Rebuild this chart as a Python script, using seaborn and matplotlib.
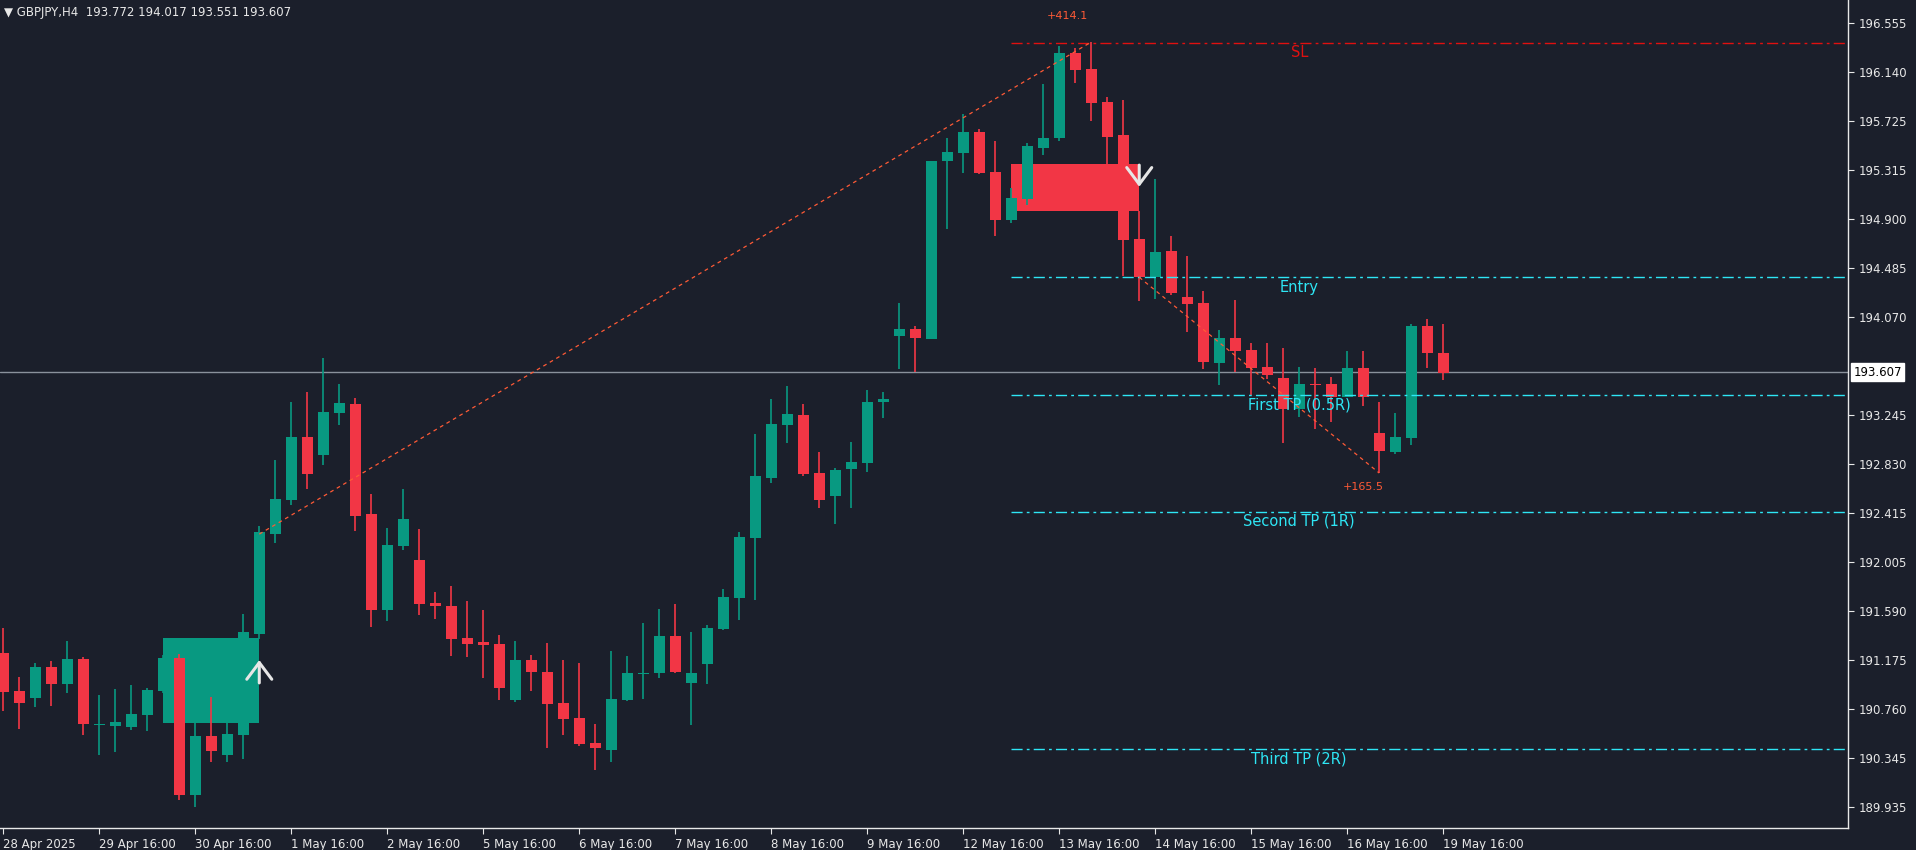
import numpy as np
import pandas as pd
import seaborn as sns
from matplotlib import pyplot as plt

# GBPJPY H4 candles (open, high, low, close)
opens = [191.236, 190.915, 190.856, 191.118, 190.974, 191.185, 190.628, 190.619, 190.611, 190.712,
         190.915, 191.194, 190.037, 190.535, 190.374, 190.543, 191.396, 192.241, 192.528, 193.060,
         192.908, 193.263, 193.339, 192.410, 191.599, 192.139, 192.021, 191.658, 191.633, 191.363,
         191.329, 191.312, 190.839, 191.177, 191.075, 190.814, 190.687, 190.476, 190.416, 190.839,
         191.060, 191.067, 191.380, 190.982, 191.143, 191.439, 191.700, 192.207, 192.714, 193.161,
         193.246, 192.756, 192.562, 192.790, 192.841, 193.356, 193.913, 193.972, 193.888, 195.391,
         195.459, 195.636, 195.298, 194.893, 195.070, 195.501, 195.585, 196.303, 196.168, 195.890,
         195.611, 194.732, 194.411, 194.631, 194.243, 194.192, 193.685, 193.896, 193.795, 193.651,
         193.558, 193.297, 193.508, 193.508, 193.398, 193.643, 193.094, 192.934, 193.052, 193.998,
         193.770]
highs = [191.447, 191.033, 191.151, 191.168, 191.337, 191.202, 190.881, 190.932, 190.966, 190.940,
         191.219, 191.227, 190.645, 190.864, 190.645, 191.565, 192.308, 192.866, 193.356, 193.440,
         193.727, 193.508, 193.389, 192.579, 192.292, 192.621, 192.283, 191.751, 191.802, 191.675,
         191.599, 191.388, 191.337, 191.219, 191.320, 191.177, 191.151, 190.636, 191.253, 191.211,
         191.489, 191.607, 191.650, 191.413, 191.472, 191.776, 192.258, 193.085, 193.381, 193.491,
         193.339, 192.934, 192.798, 193.018, 193.457, 193.440, 194.192, 193.998, 195.391, 195.585,
         195.788, 195.661, 195.560, 195.163, 195.543, 196.042, 196.363, 196.346, 196.396, 195.932,
         195.906, 194.969, 195.239, 194.758, 194.589, 194.293, 193.964, 194.217, 193.854, 193.854,
         193.812, 193.651, 193.643, 193.567, 193.786, 193.786, 193.356, 193.263, 194.015, 194.057,
         194.015]
lows = [190.746, 190.594, 190.780, 190.788, 190.898, 190.543, 190.374, 190.400, 190.585, 190.577,
        190.898, 189.994, 189.935, 190.315, 190.315, 190.341, 191.354, 192.165, 192.486, 192.621,
        192.824, 193.161, 192.266, 191.455, 191.506, 192.106, 191.557, 191.523, 191.211, 191.202,
        191.025, 190.839, 190.822, 190.915, 190.433, 190.543, 190.450, 190.248, 190.315, 190.830,
        190.847, 191.025, 191.067, 190.628, 190.974, 191.430, 191.515, 191.683, 192.672, 193.010,
        192.731, 192.460, 192.325, 192.460, 192.765, 193.221, 193.634, 193.609, 193.888, 194.817,
        195.290, 195.281, 194.758, 194.868, 195.020, 195.442, 195.560, 196.050, 195.729, 195.315,
        194.420, 194.209, 194.226, 194.259, 193.947, 193.634, 193.499, 193.609, 193.415, 193.550,
        193.010, 193.229, 193.128, 193.187, 193.398, 193.322, 192.756, 192.917, 192.993, 193.643,
        193.541]
closes = [190.906, 190.814, 191.118, 190.974, 191.185, 190.636, 190.632, 190.653, 190.721, 190.923,
          191.194, 190.037, 190.535, 190.408, 190.552, 191.413, 192.258, 192.537, 193.060, 192.748,
          193.271, 193.347, 192.393, 191.599, 192.148, 192.368, 191.650, 191.633, 191.354, 191.312,
          191.303, 190.940, 191.177, 191.075, 190.805, 190.678, 190.467, 190.433, 190.847, 191.067,
          191.070, 191.380, 191.075, 191.067, 191.447, 191.709, 192.216, 192.731, 193.170, 193.254,
          192.748, 192.528, 192.781, 192.849, 193.356, 193.381, 193.972, 193.896, 195.391, 195.467,
          195.636, 195.290, 194.893, 195.079, 195.518, 195.585, 196.303, 196.160, 195.881, 195.594,
          194.724, 194.411, 194.623, 194.276, 194.184, 193.694, 193.896, 193.786, 193.643, 193.584,
          193.297, 193.508, 193.499, 193.398, 193.643, 193.398, 192.942, 193.060, 193.998, 193.770,
          193.601]

date_ticks = [0, 6, 12, 18, 24, 30, 36, 42, 48, 54, 60, 66, 72, 78, 84, 90]
date_labels = ["28 Apr 2025", "29 Apr 16:00", "30 Apr 16:00", "1 May 16:00", "2 May 16:00",
               "5 May 16:00", "6 May 16:00", "7 May 16:00", "8 May 16:00", "9 May 16:00",
               "12 May 16:00", "13 May 16:00", "14 May 16:00", "15 May 16:00", "16 May 16:00",
               "19 May 16:00"]
# 193.655 sits under the last-price tag, so it is not shown
price_ticks = [196.555, 196.140, 195.725, 195.315, 194.900, 194.485, 194.070, 193.245,
               192.830, 192.415, 192.005, 191.590, 191.175, 190.760, 190.345, 189.935]

# trade levels
sl_price = 196.391
entry_price = 194.409
tp_levels = [193.418, 192.430, 190.427]
tp_names = ["First TP (0.5R)", "Second TP (1R)", "Third TP (2R)"]
last_price = 193.607

# zones: (start idx, end idx, low, high)
bull_zone = (10, 16, 190.645, 191.363)
bear_zone = (63, 71, 194.969, 195.366)

# swing legs: (idx0, price0, idx1, price1, label)
swing_up = (16, 192.24, 68, 196.396, "+414.1")
swing_down = (71, 194.409, 86, 192.756, "+165.5")

BG = "#1b1f2b"
GREEN = "#089981"
RED = "#f23645"
CYAN = "#2ee6f5"
FG = "#e8e8e8"

df = pd.DataFrame({"open": opens, "high": highs, "low": lows, "close": closes})
df["idx"] = np.arange(len(df))
df["up"] = df["close"] >= df["open"]
df["color"] = np.where(df["up"], GREEN, RED)

sns.set_theme(style="dark", rc={"axes.facecolor": BG, "figure.facecolor": BG})
plt.rcParams["font.family"] = ["DejaVu Sans"]

fig = plt.figure(figsize=(19.16, 8.5), dpi=100)
ax = fig.add_axes([0, 1 - 828 / 850, 1848 / 1916, 828 / 850])
ax.set_facecolor(BG)

# zones behind candles
for x0, x1, lo, hi, col in [(*bull_zone, GREEN), (*bear_zone, RED)]:
    ax.fill_between([x0, x1], lo, hi, color=col, lw=0, zorder=1)

# candles
ax.vlines(df["idx"], df["low"], df["high"], colors=df["color"], lw=1.2, zorder=2)
body_lo = np.minimum(df["open"], df["close"])
body_h = np.maximum(np.abs(df["close"] - df["open"]), 0.006)
ax.bar(df["idx"], body_h, bottom=body_lo, width=0.69, color=df["color"], lw=0, zorder=3)

# arrows
arrow_style = dict(arrowstyle="->,head_length=0.6,head_width=0.45", color="#e6e6e6", lw=2.2,
                   mutation_scale=20)
ax.annotate("", xy=(16, 191.2), xytext=(16, 190.96), arrowprops=arrow_style, zorder=5)
ax.annotate("", xy=(71, 195.15), xytext=(71, 195.38), arrowprops=arrow_style, zorder=5)

# trade levels
x_right = 115.3
dashdot = (0, (8, 3, 2, 3))
ax.plot([63, x_right], [sl_price, sl_price], color="#e01010", lw=1, ls=dashdot, zorder=4)
ax.text(81, sl_price - 0.02, "SL", color="#e01010", fontsize=10.5, ha="center", va="top")
ax.plot([63, x_right], [entry_price, entry_price], color=CYAN, lw=1, ls=dashdot, zorder=4)
ax.text(81, entry_price - 0.02, "Entry", color=CYAN, fontsize=10.5, ha="center", va="top")
for lvl, name in zip(tp_levels, tp_names):
    ax.plot([63, x_right], [lvl, lvl], color=CYAN, lw=1, ls=dashdot, zorder=4)
    ax.text(81, lvl - 0.02, name, color=CYAN, fontsize=10.5, ha="center", va="top", zorder=6)

# swing legs
for i0, p0, i1, p1, lab in [swing_up, swing_down]:
    ax.plot([i0, i1], [p0, p1], color="#ff5a36", lw=0.9, ls=(0, (3, 3)), zorder=4)
ax.text(swing_up[2] - 1.5, 196.62, swing_up[4], color="#ff5a36", fontsize=8, ha="center", va="center")
ax.text(swing_down[2] - 1, 192.68, swing_down[4], color="#ff5a36", fontsize=8, ha="center", va="top")

# current price line
ax.axhline(last_price, color="#8a919c", lw=1, zorder=1.5)

ax.set_xlim(-0.206, x_right)
ax.set_ylim(189.758, 196.751)

ax.yaxis.tick_right()
ax.set_yticks(price_ticks)
ax.set_yticklabels([f"{p:.3f}" for p in price_ticks])
ax.set_xticks(date_ticks)
ax.set_xticklabels(date_labels, ha="left")
ax.tick_params(colors=FG, labelsize=8.5, length=4, width=0.8, direction="out",
               left=False, right=True, bottom=True)
for lab in ax.get_xticklabels() + ax.get_yticklabels():
    lab.set_color(FG)
for side in ["top", "left"]:
    ax.spines[side].set_visible(False)
for side in ["right", "bottom"]:
    ax.spines[side].set_visible(True)
    ax.spines[side].set_color(FG)
    ax.spines[side].set_linewidth(1)
ax.grid(False)

ax.text(1.003, last_price, f"{last_price:.3f}", transform=ax.get_yaxis_transform(),
        color="black", fontsize=8.5, va="center", ha="left",
        bbox=dict(boxstyle="square,pad=0.2", fc="white", ec="white"), clip_on=False)

fig.text(0.002, 0.985, "\u25bc GBPJPY,H4  193.772 194.017 193.551 193.607",
         color=FG, fontsize=8.5, va="center", ha="left")

fig.savefig("out.png", dpi=100, facecolor=BG)
